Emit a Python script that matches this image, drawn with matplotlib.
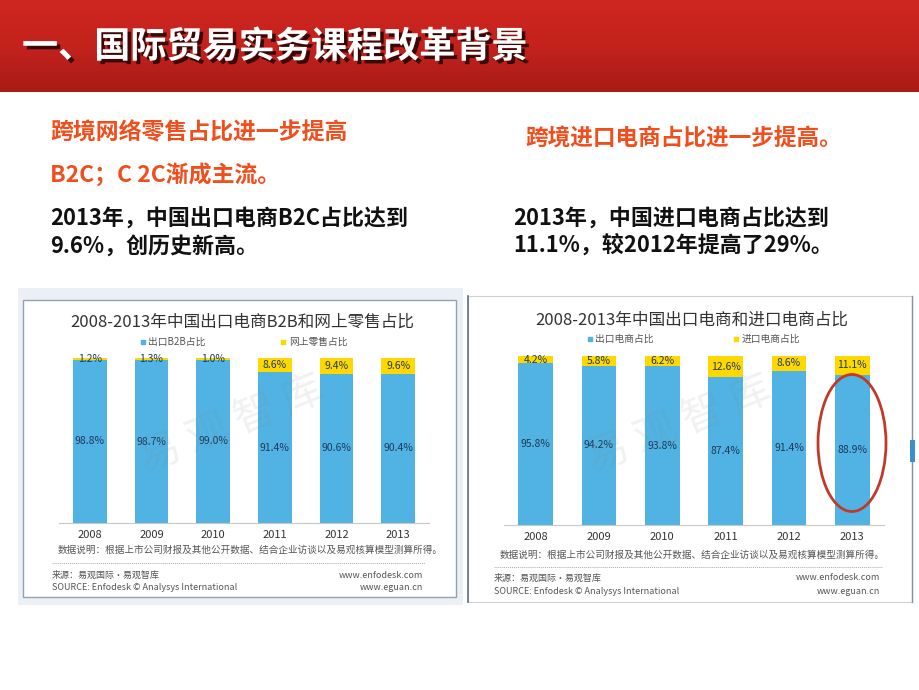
import matplotlib
matplotlib.use('Agg')
import matplotlib.pyplot as plt
import matplotlib.patheffects as pe
from matplotlib.patches import Rectangle, Ellipse
import numpy as np

plt.rcParams['font.family'] = ['Noto Sans CJK SC', 'DejaVu Sans']

# data
years = ['2008', '2009', '2010', '2011', '2012', '2013']
b2b_share = [98.8, 98.7, 99.0, 91.4, 90.6, 90.4]      # 出口B2B占比
retail_share = [1.2, 1.3, 1.0, 8.6, 9.4, 9.6]         # 网上零售占比
export_share = [95.8, 94.2, 93.8, 87.4, 91.4, 88.9]   # 出口电商占比
import_share = [4.2, 5.8, 6.2, 12.6, 8.6, 11.1]       # 进口电商占比

BLUE = '#50B3E3'
YELLOW = '#FFD800'
LABEL = '#1F3A5A'
W, H = 920, 690

fig = plt.figure(figsize=(9.2, 6.9), dpi=100)

# background canvas in pixel coordinates
bg = fig.add_axes([0, 0, 1, 1])
bg.set_xlim(0, W)
bg.set_ylim(H, 0)
bg.axis('off')

# red header band
grad = np.linspace(0, 1, 100).reshape(-1, 1)
cmap = matplotlib.colors.LinearSegmentedColormap.from_list(
    'hdr', ['#CF2620', '#C4221D', '#A91B17'])
bg.imshow(grad, extent=[0, W, 92, 0], cmap=cmap, aspect='auto', zorder=0)
bg.text(22, 47, '一、国际贸易实务课程改革背景', fontsize=26, fontweight='bold',
        color='white', va='center', ha='left',
        path_effects=[pe.SimplePatchShadow(offset=(2.5, -2.5), shadow_rgbFace='#2a0705', alpha=0.9),
                      pe.Normal()])

ORANGE = '#F04E1C'
bg.text(50, 133, '跨境网络零售占比进一步提高', fontsize=16.5, fontweight='bold', color=ORANGE, va='center')
bg.text(50, 175, 'B2C；C 2C渐成主流。', fontsize=16.5, fontweight='bold', color=ORANGE, va='center')
bg.text(50, 219, '2013年，中国出口电商B2C占比达到', fontsize=15.8, fontweight='bold', color='#111111', va='center')
bg.text(50, 246, '9.6%，创历史新高。', fontsize=15.8, fontweight='bold', color='#111111', va='center')

bg.text(525, 139, '跨境进口电商占比进一步提高。', fontsize=16.3, fontweight='bold', color=ORANGE, va='center')
bg.text(513, 218, '2013年，中国进口电商占比达到', fontsize=15.8, fontweight='bold', color='#111111', va='center')
bg.text(513, 245, '11.1%，较2012年提高了29%。', fontsize=15.8, fontweight='bold', color='#111111', va='center')

# picture frames
bg.add_patch(Rectangle((18, 288), 445, 317, facecolor='#ECF0F5', edgecolor='none', zorder=1))
bg.add_patch(Rectangle((23, 300), 433, 297, facecolor='white', edgecolor='#8FA3B5', lw=1.0, zorder=2))
bg.add_patch(Rectangle((468, 296), 444, 306, facecolor='white', edgecolor='#C9D2DB', lw=0.8, zorder=1))
bg.plot([468, 468], [296, 602], color='#5D7184', lw=1.2, zorder=3)
bg.plot([912, 912], [296, 602], color='#7F93A6', lw=1.0, zorder=3)
bg.add_patch(Rectangle((910, 440), 5, 22, facecolor='#3A8FD0', edgecolor='none', zorder=3))


def px_axes(left, right, top, bottom):
    return fig.add_axes([left / W, 1 - bottom / H, (right - left) / W, (bottom - top) / H])


def stacked_chart(ax, low, high, title, leg1, leg2, cx, ty, leg_pos):
    x = np.arange(len(years))
    ax.bar(x, low, width=0.55, color=BLUE, zorder=2)
    ax.bar(x, high, width=0.55, bottom=low, color=YELLOW, zorder=2)
    for i in range(len(years)):
        ax.text(x[i], low[i] / 2, f'{low[i]:.1f}%', ha='center', va='center',
                fontsize=7.5, color=LABEL, zorder=3)
        ax.text(x[i], low[i] + high[i] / 2, f'{high[i]:.1f}%', ha='center', va='center',
                fontsize=7.5, color=LABEL, zorder=3, clip_on=False)
    ax.set_xlim(-0.5, len(years) - 0.5)
    ax.set_ylim(0, 100)
    ax.set_xticks(x)
    ax.set_xticklabels(years, fontsize=8, color='#333333')
    ax.tick_params(axis='x', length=0, pad=5)
    ax.set_yticks([])
    for s in ['top', 'left', 'right']:
        ax.spines[s].set_visible(False)
    ax.spines['bottom'].set_color('#C8C8C8')
    ax.patch.set_alpha(0)
    bg.text(cx, ty, title, fontsize=12, color='#333333', ha='center', va='center', zorder=4)
    (b1, b2, yl) = leg_pos
    bg.scatter([b1], [yl], marker='s', s=9, color=BLUE, zorder=4)
    bg.text(b1 + 5, yl, leg1, fontsize=7, color='#555555', va='center', zorder=4)
    bg.scatter([b2], [yl], marker='s', s=9, color=YELLOW, zorder=4)
    bg.text(b2 + 6, yl, leg2, fontsize=7, color='#555555', va='center', zorder=4)


ax1 = px_axes(59, 429, 358, 523)
stacked_chart(ax1, b2b_share, retail_share, '2008-2013年中国出口电商B2B和网上零售占比',
              '出口B2B占比', '网上零售占比', 242, 322, (143, 283, 342))

ax2 = px_axes(504, 884, 356, 525)
stacked_chart(ax2, export_share, import_share, '2008-2013年中国出口电商和进口电商占比',
              '出口电商占比', '进口电商占比', 692, 320, (590, 736, 339))

# footnotes
note = '数据说明：根据上市公司财报及其他公开数据、结合企业访谈以及易观核算模型测算所得。'
for (x0, x1, yn, yd, ys1, ys2) in [(58, 423, 550, 563, 575, 588), (500, 880, 555, 567, 578, 591)]:
    bg.text(x0, yn, note, fontsize=6.9, color='#555555', va='center', zorder=4)
    bg.plot([x0 - 6, x1 + 2], [yd, yd], color='#AAAAAA', lw=0.7, ls=(0, (1, 1)), zorder=4)
    bg.text(x0 - 6, ys1, '来源：易观国际·易观智库', fontsize=6.5, color='#555555', va='center', zorder=4)
    bg.text(x0 - 6, ys2, 'SOURCE: Enfodesk © Analysys International', fontsize=6.5, color='#555555', va='center', zorder=4)
    bg.text(x1, ys1, 'www.enfodesk.com', fontsize=6.5, color='#555555', va='center', ha='right', zorder=4)
    bg.text(x1, ys2, 'www.eguan.cn', fontsize=6.5, color='#555555', va='center', ha='right', zorder=4)

# overlay: watermark and red ellipse
top = fig.add_axes([0, 0, 1, 1], zorder=10)
top.set_xlim(0, W)
top.set_ylim(H, 0)
top.axis('off')
top.patch.set_alpha(0)
for cx in (232, 680):
    top.text(cx, 425, '易 观 智 库', fontsize=30, color='#888888', alpha=0.12,
             rotation=22, ha='center', va='center')
top.add_patch(Ellipse((852, 443), 68, 137, fill=False, edgecolor='#C0392B', lw=2))

fig.savefig('out.png', dpi=100)
